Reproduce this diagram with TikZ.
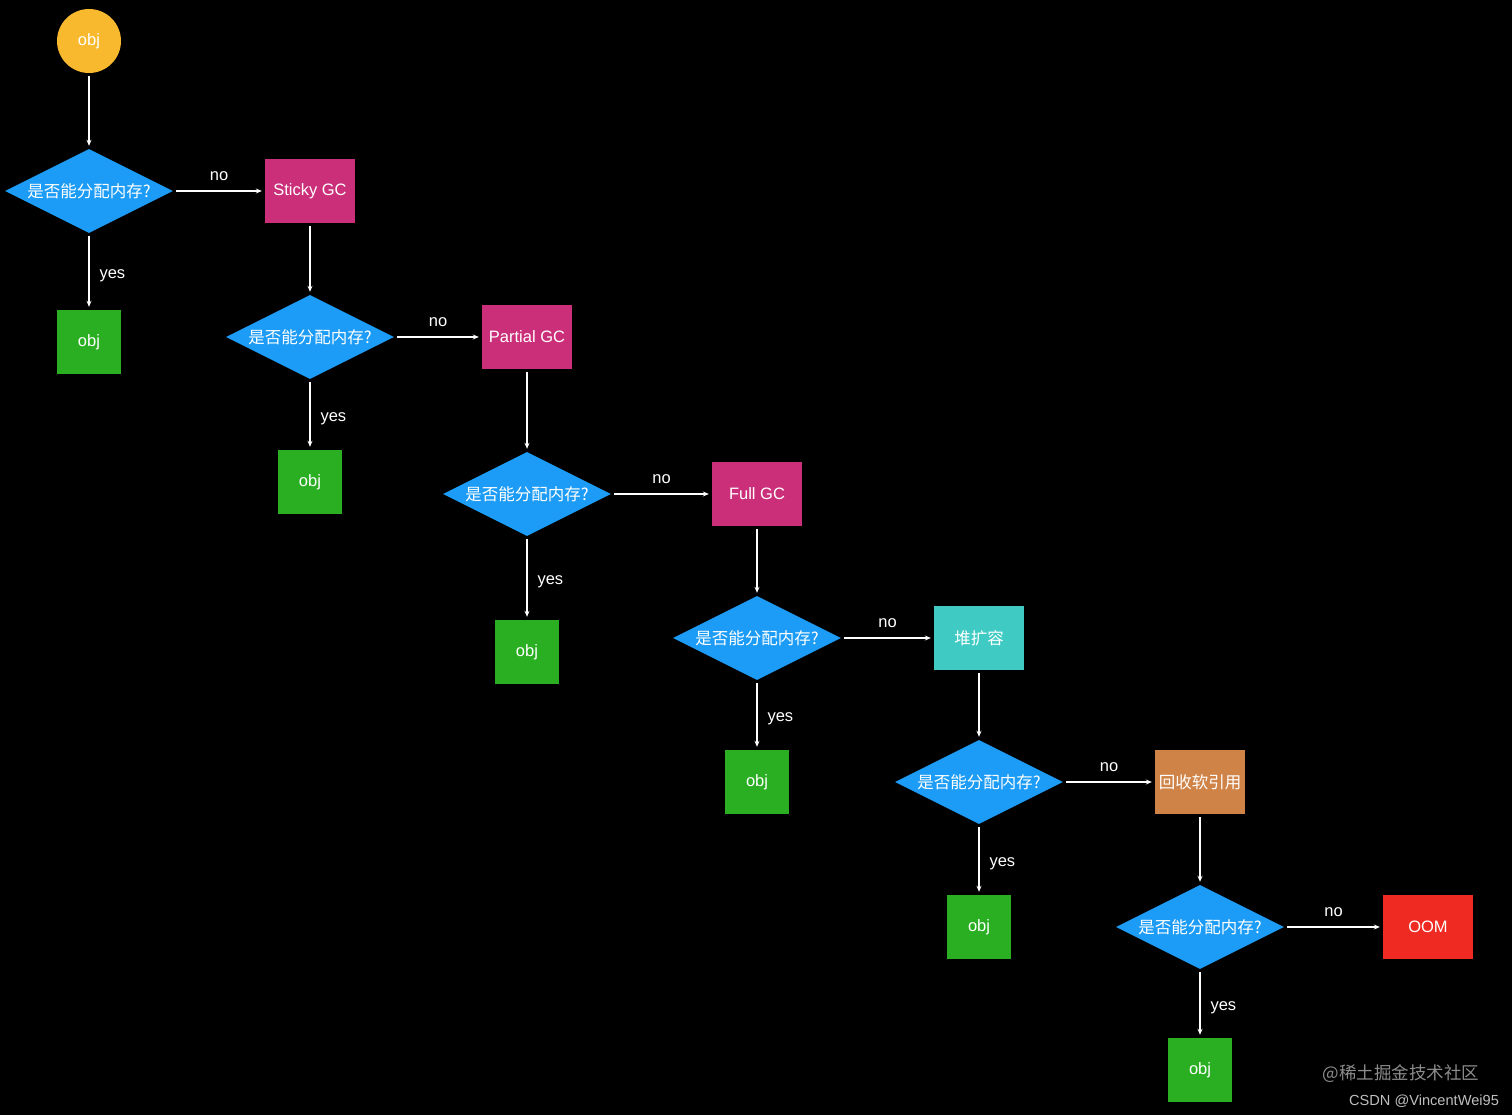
\documentclass[tikz,border=0pt]{standalone}
\usepackage{fontspec}
\setmainfont{Liberation Sans}
\newfontfamily\cjk{Noto Sans CJK SC}
\usepackage{tikz}
\usetikzlibrary{arrows.meta, shapes.geometric, positioning}
\definecolor{objorange}{HTML}{F9B92E}
\definecolor{askblue}{HTML}{1C9CF6}
\definecolor{gcpink}{HTML}{CB2F7A}
\definecolor{objgreen}{HTML}{2AAF22}
\definecolor{heapteal}{HTML}{3FCBC4}
\definecolor{softbrown}{HTML}{D08347}
\definecolor{oomred}{HTML}{EE2A22}
\newcommand{\ask}{{\cjk 是否能分配内存?}}
\tikzset{tekst/.style={text=white, font=\fontsize{16.5}{20}\selectfont},
    start/.style={tekst, circle, fill=objorange, minimum size=64pt, inner sep=0pt},
    decision/.style={tekst, diamond, aspect=2, fill=askblue, minimum width=168pt,
        minimum height=84pt, inner sep=0pt},
    gcbox/.style={tekst, rectangle, minimum width=90pt, minimum height=64pt, inner sep=0pt},
    objbox/.style={tekst, rectangle, fill=objgreen, minimum size=64pt, inner sep=0pt},
    veza/.style={white, line width=1.1pt, shorten >=3pt, shorten <=3pt,
        -{Stealth[length=6pt, width=5pt]}},
    oznaka/.style={tekst, inner sep=2pt},
    ne/.style={oznaka, above=8pt},
    da/.style={oznaka, right=8pt, yshift=-4pt}}

\begin{document}
\begin{tikzpicture}[x=1pt, y=-1pt]
    %pozadina
    \fill[black] (0, 0) rectangle (1512, 1115);
    \useasboundingbox (0, 0) rectangle (1512, 1115);

    %pocetak
    \node[start] (obj0) at (89, 41) {obj};

    %pitanja
    \node[decision] (q1) at (89, 191) {\ask};
    \node[decision] (q2) at (310, 337) {\ask};
    \node[decision] (q3) at (527, 494) {\ask};
    \node[decision] (q4) at (757, 638) {\ask};
    \node[decision] (q5) at (979, 782) {\ask};
    \node[decision] (q6) at (1200, 927) {\ask};

    %koraci
    \node[gcbox, fill=gcpink] (sticky) at (310, 191) {Sticky GC};
    \node[gcbox, fill=gcpink] (partial) at (527, 337) {Partial GC};
    \node[gcbox, fill=gcpink] (full) at (757, 494) {Full GC};
    \node[gcbox, fill=heapteal] (heap) at (979, 638) {\cjk 堆扩容};
    \node[gcbox, fill=softbrown] (soft) at (1200, 782) {\cjk 回收软引用};
    \node[gcbox, fill=oomred] (oom) at (1428, 927) {OOM};

    %rezultati
    \node[objbox] (a1) at (89, 342) {obj};
    \node[objbox] (a2) at (310, 482) {obj};
    \node[objbox] (a3) at (527, 652) {obj};
    \node[objbox] (a4) at (757, 782) {obj};
    \node[objbox] (a5) at (979, 927) {obj};
    \node[objbox] (a6) at (1200, 1070) {obj};

    %strelice
    \draw[veza] (obj0) -- (q1);
    \draw[veza] (q1) -- node[ne] {no} (sticky);
    \draw[veza] (q1) -- node[da] {yes} (a1);
    \draw[veza] (sticky) -- (q2);
    \draw[veza] (q2) -- node[ne] {no} (partial);
    \draw[veza] (q2) -- node[da] {yes} (a2);
    \draw[veza] (partial) -- (q3);
    \draw[veza] (q3) -- node[ne] {no} (full);
    \draw[veza] (q3) -- node[da] {yes} (a3);
    \draw[veza] (full) -- (q4);
    \draw[veza] (q4) -- node[ne] {no} (heap);
    \draw[veza] (q4) -- node[da] {yes} (a4);
    \draw[veza] (heap) -- (q5);
    \draw[veza] (q5) -- node[ne] {no} (soft);
    \draw[veza] (q5) -- node[da] {yes} (a5);
    \draw[veza] (soft) -- (q6);
    \draw[veza] (q6) -- node[ne] {no} (oom);
    \draw[veza] (q6) -- node[da] {yes} (a6);

    %vodeni zig
    \node[text=black!45!white, font=\fontsize{17.5}{20}\selectfont\cjk, inner sep=0pt]
        (wm1) at (1401, 1074) {@稀土掘金技术社区};
    \node[text=black!25!white, font=\fontsize{14.6}{18}\selectfont, inner sep=0pt]
        (wm2) at (1424, 1101) {CSDN @VincentWei95};
\end{tikzpicture}
\end{document}
